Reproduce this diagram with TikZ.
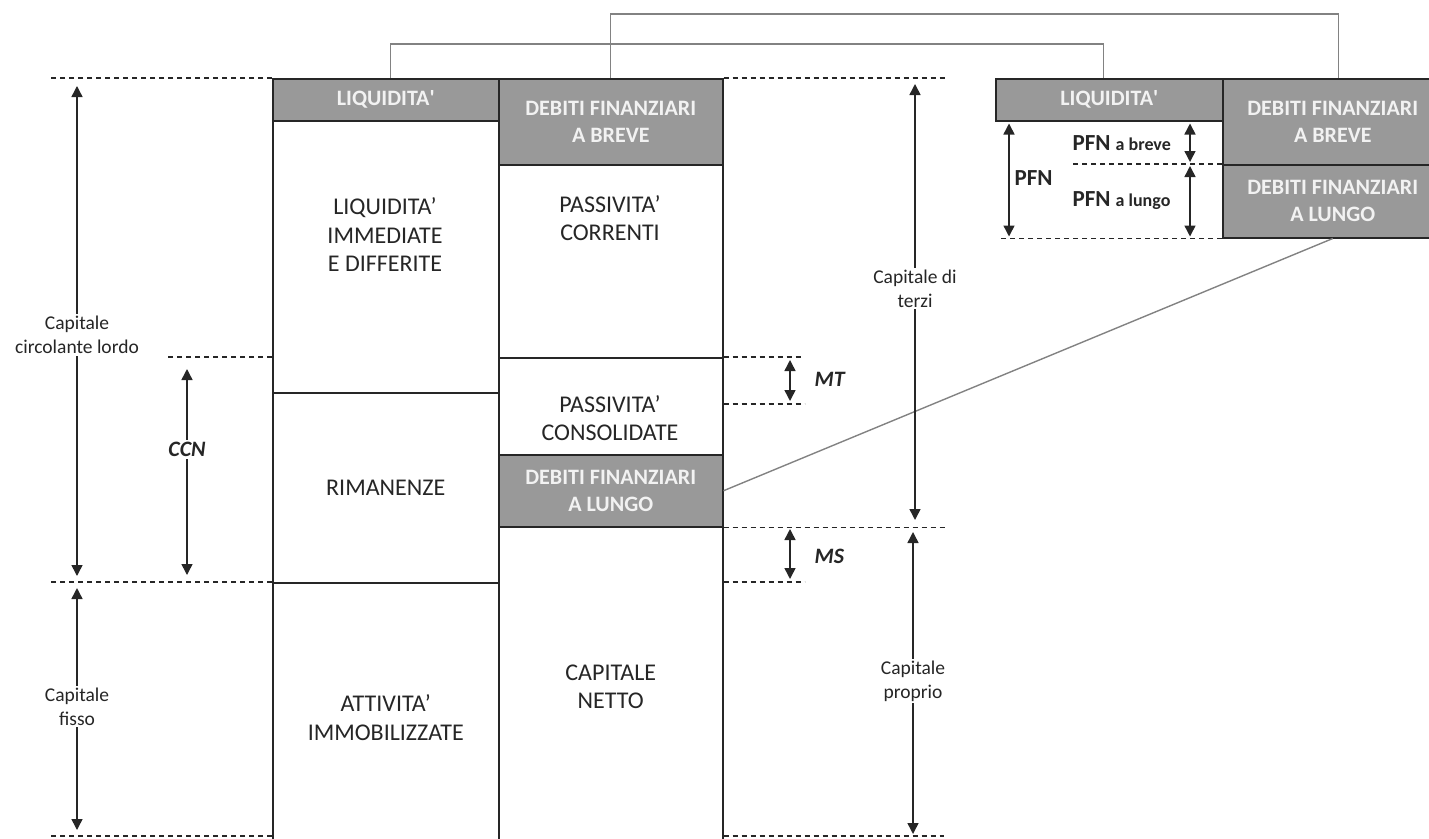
\documentclass[tikz,border=0pt]{standalone}
\usepackage{fontspec}
\setmainfont{Carlito}
\usetikzlibrary{arrows.meta}

\definecolor{grigio}{RGB}{153,153,153}
\definecolor{bordo}{RGB}{38,38,38}
\definecolor{linea}{RGB}{130,130,130}

\tikzset{
	cella/.style n args={2}{draw=bordo, line width=1.5pt, fill=white, anchor=north west, inner sep=0pt, minimum width=#1pt, minimum height=#2pt},
	scura/.style={fill=grigio, text=white!95!black, align=center, font=\fontsize{22}{27}\selectfont\bfseries},
	testo/.style={align=center, text=bordo, font=\fontsize{24}{28.5}\selectfont},
	voce/.style={align=center, fill=white, inner sep=2pt, text=bordo, font=\fontsize{19.5}{24}\selectfont},
	sigla/.style={anchor=west, text=bordo, font=\fontsize{22}{26}\selectfont\bfseries\itshape},
	pfn/.style={anchor=west, text=bordo, font=\fontsize{23}{28}\selectfont\bfseries},
	quota/.style={draw=bordo, line width=1.5pt, {Triangle[width=11pt,length=11pt]}-{Triangle[width=11pt,length=11pt]}, shorten >=6pt, shorten <=6pt},
	tratt/.style={draw=bordo, line width=1.3pt, dash pattern=on 5pt off 4pt},
	conn/.style={draw=linea, line width=1.4pt},
}

\begin{document}
\begin{tikzpicture}[x=1pt, y=-1pt]
	\useasboundingbox (0,0) rectangle (1429,838);
	\clip (0,0) rectangle (1429,838);
	\coordinate (fondo) at (0,836);
	\coordinate (mtBase) at (0,404);
	
	% impieghi
	\node[cella={226}{42}, scura] (liqA) at (272,78) {LIQUIDITA\textquotesingle};
	\node[cella={226}{272}] (liqImm) at (272,120) {};
	\node[cella={226}{190}, testo] (riman) at (272,392) {RIMANENZE};
	\node[cella={226}{270}, testo] (immob) at (272,582) {ATTIVITA’\\IMMOBILIZZATE};
	
	% fonti
	\node[cella={224}{86}, scura] (dfbA) at (498,78) {DEBITI FINANZIARI\\A BREVE};
	\node[cella={224}{193}] (passCorr) at (498,164) {};
	\node[cella={224}{97}] (passCons) at (498,357) {};
	\node[cella={224}{72}, scura] (dflA) at (498,454) {DEBITI FINANZIARI\\A LUNGO};
	\node[cella={224}{320}, testo] (capNet) at (498,526) {CAPITALE\\NETTO};
	
	\node[testo] (tImm) at (385,235) {LIQUIDITA’\\IMMEDIATE\\E DIFFERITE};
	\node[testo] (tCorr) at (610,218) {PASSIVITA’\\CORRENTI};
	\node[testo] (tCons) at (610,418) {PASSIVITA’\\CONSOLIDATE};
	
	% dettaglio PFN
	\node[cella={227}{42}, scura] (liqB) at (995,78) {LIQUIDITA\textquotesingle};
	\node[cella={220}{86}, scura] (dfbB) at (1222,78) {DEBITI FINANZIARI\\A BREVE};
	\node[cella={220}{73}, scura] (dflB) at (1222,164) {DEBITI FINANZIARI\\A LUNGO};
	
	% collegamenti
	\draw[conn] (dfbA.north) -- ++(0,-64) -| ([xshift=6pt]dfbB.north);
	\draw[conn] ([xshift=5pt]liqA.north) -- ++(0,-34) -| ([xshift=-6pt]liqB.north);
	\draw[conn] (dflB.south) -- (dflA.east);
	
	% tratteggi
	\draw[tratt] (liqA.north west) -- ++(-224,0);
	\draw[tratt] (dfbA.north east) -- ++(223,0);
	\draw[tratt] (liqImm.west |- passCons.north) -- ++(-106,0);
	\draw[tratt] (immob.north west) -- ++(-224,0);
	\draw[tratt] (immob.west |- fondo) -- ++(-224,0);
	\draw[tratt] (capNet.east |- fondo) -- ++(220,0);
	\draw[tratt] (passCons.north east) -- ++(78,0);
	\draw[tratt] (passCons.east |- mtBase) -- ++(81,0);
	\draw[tratt] (dflA.south east) -- ++(221,0);
	\draw[tratt] (capNet.east |- immob.north) -- ++(81,0);
	\draw[tratt] (dflB.north west) -- ++(-149,0);
	\draw[tratt] (dflB.south west) -- ++(-222,0);
	
	% quote
	\draw[quota, shorten <=8pt] (77,0 |- liqA.north) -- (77,0 |- immob.north)
		node[voce, pos=0.51] (ccl) {Capitale\\circolante lordo};
	\draw[quota] (77,0 |- immob.north) -- (77,0 |- fondo)
		node[voce, pos=0.49] (cf) {Capitale\\fisso};
	\draw[quota, shorten <=12pt, shorten >=7pt] (187,0 |- passCons.north) -- (187,0 |- immob.north)
		node[voce, pos=0.41, sigla, anchor=center] (ccn) {CCN};
	\draw[quota] (915,0 |- dfbA.north) -- (915,0 |- capNet.north)
		node[voce, pos=0.47] (terzi) {Capitale di\\terzi};
	\draw[quota, shorten >=2pt] (913,0 |- capNet.north) -- (913,0 |- fondo)
		node[voce, pos=0.5] (proprio) {Capitale\\proprio};
	
	\draw[quota, shorten >=3pt, shorten <=3pt] (790,0 |- passCons.north) -- (790,0 |- mtBase);
	\node[sigla] (mt) at (811,379) {MT};
	\draw[quota, shorten >=3pt, shorten <=3pt] (790,0 |- capNet.north) -- (790,0 |- immob.north);
	\node[sigla] (ms) at (811,556) {MS};
	
	\draw[quota, shorten >=2pt, shorten <=2pt] (1009,0 |- liqB.south) -- (1009,0 |- dflB.south);
	\node[pfn] (pfnTot) at (1011,178) {PFN};
	\draw[quota, shorten >=2pt, shorten <=2pt] (1190,0 |- liqB.south) -- (1190,0 |- dflB.north);
	\node[pfn] (pfnBreve) at (1069,143) {PFN {\fontsize{18}{22}\selectfont a breve}};
	\draw[quota, shorten >=2pt, shorten <=2pt] (1190,0 |- dflB.north) -- (1190,0 |- dflB.south);
	\node[pfn] (pfnLungo) at (1069,201) {PFN {\fontsize{18}{22}\selectfont a lungo}};
	
\end{tikzpicture}
\end{document}
